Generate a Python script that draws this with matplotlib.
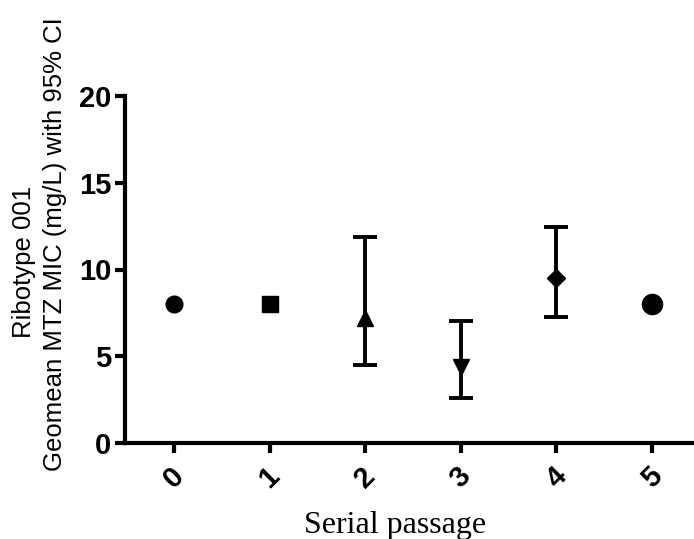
import matplotlib
matplotlib.use("Agg")
import matplotlib.pyplot as plt
import numpy as np

# serial passage data (geomean MTZ MIC, mg/L, with 95% CI)
passages = [0, 1, 2, 3, 4, 5]
geomean = [8.0, 8.0, 7.2, 4.4, 9.5, 8.0]
ci_low = [np.nan, np.nan, 4.5, 2.6, 7.25, np.nan]
ci_high = [np.nan, np.nan, 11.9, 7.05, 12.45, np.nan]
markers = ["o", "s", "^", "v", "D", "o"]
marker_sizes = [12, 11, 12, 12, 9, 14.5]

fig = plt.figure(figsize=(6.94, 5.39), dpi=100)
ax = fig.add_axes([125 / 694, 1 - 443 / 539, 1 - 125 / 694, (443 - 96) / 539])

for x, y, lo, hi, m, ms in zip(passages, geomean, ci_low, ci_high, markers, marker_sizes):
    if not np.isnan(lo):
        ax.errorbar([x], [y], yerr=[[y - lo], [hi - y]], fmt="none", ecolor="black",
                    elinewidth=2.8, capsize=8.5, capthick=2.8, zorder=2)
    ax.plot([x], [y], marker=m, markersize=ms, color="black", linestyle="none", zorder=3)

ax.set_xlim(-0.513, 5.44)
ax.set_ylim(0, 20)
ax.set_yticks([0, 5, 10, 15, 20])
ax.set_xticks(passages)
ax.set_xticklabels([str(p) for p in passages], rotation=45, ha="center", va="top")

for s in ["top", "right"]:
    ax.spines[s].set_visible(False)
for s in ["left", "bottom"]:
    ax.spines[s].set_linewidth(3)
ax.tick_params(axis="both", width=3, length=7, labelsize=21, pad=3)
for lbl in ax.get_xticklabels() + ax.get_yticklabels():
    lbl.set_fontfamily("Liberation Sans")
    lbl.set_fontweight("bold")
ax.tick_params(axis="x", pad=7)

# two-line y label, each line placed on its own
fig.text(24 / 694, 1 - 262 / 539, "Ribotype 001", rotation=90, ha="center", va="center",
         fontsize=18.5, family="Liberation Sans")
fig.text(55 / 694, 1 - 244 / 539, "Geomean MTZ MIC (mg/L) with 95% CI", rotation=90,
         ha="center", va="center", fontsize=18.5, family="Liberation Sans")
fig.text(395 / 694, 1 - 533 / 539, "Serial passage", ha="center", va="baseline",
         fontsize=23, family="Liberation Serif")

fig.savefig("out.png", dpi=100)
plt.close(fig)
